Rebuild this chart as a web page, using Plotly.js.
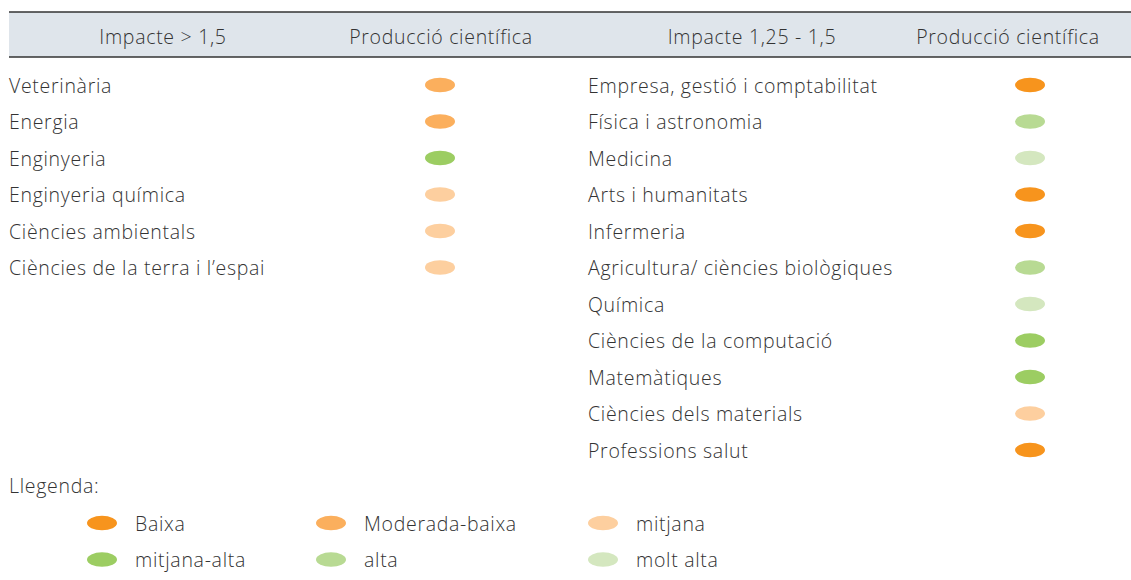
<!DOCTYPE html>
<html>
<head>
<meta charset="utf-8">
<script src="https://cdn.plot.ly/plotly-3.0.1.min.js"></script>
<style>
html,body{margin:0;padding:0;background:#fff;}
#chart{width:1131px;height:580px;}
#chart .textpoint text{letter-spacing:0.7px;}
</style>
</head>
<body>
<div id="chart"></div>
<script>
// ---- data ----
const headerLeft = ['Impacte > 1,5', 'Producció científica'];
const headerRight = ['Impacte 1,25 - 1,5', 'Producció científica'];

const leftCategories = ['Veterinària', 'Energia', 'Enginyeria', 'Enginyeria química',
  'Ciències ambientals', 'Ciències de la terra i l\u2019espai'];
const leftLevels = ['Moderada-baixa', 'Moderada-baixa', 'mitjana-alta', 'mitjana', 'mitjana', 'mitjana'];

const rightCategories = ['Empresa, gestió i comptabilitat', 'Física i astronomia', 'Medicina',
  'Arts i humanitats', 'Infermeria', 'Agricultura/ ciències biològiques', 'Química',
  'Ciències de la computació', 'Matemàtiques', 'Ciències dels materials', 'Professions salut'];
const rightLevels = ['Baixa', 'alta', 'molt alta', 'Baixa', 'Baixa', 'alta', 'molt alta',
  'mitjana-alta', 'mitjana-alta', 'mitjana', 'Baixa'];

const legendTitle = 'Llegenda:';
const levelNames = ['Baixa', 'Moderada-baixa', 'mitjana', 'mitjana-alta', 'alta', 'molt alta'];
const levelColors = ['#F7941D', '#FBAF5D', '#FDCF9F', '#9CCD62', '#B8DA93', '#D4E7BF'];

// ---- layout helpers ----
const FONT = {family: 'Open Sans, Liberation Sans, sans-serif', size: 19.5, color: '#333333', weight: 300};
const colorOf = name => levelColors[levelNames.indexOf(name)];
const TXT_DY = 0.08;
const rowIdx = arr => arr.map((_, i) => i + TXT_DY);

const traces = [];
const shapes = [];

function textTrace(xs, ys, texts, pos) {
  traces.push({type: 'scatter', mode: 'text', x: xs, y: ys, text: texts,
    textposition: pos, textfont: FONT, hoverinfo: 'skip', showlegend: false, cliponaxis: false});
}
function ellipse(cx, cy, color) {
  shapes.push({type: 'circle', xref: 'x', yref: 'y', x0: cx - 15, x1: cx + 15,
    y0: cy - 0.2, y1: cy + 0.2, fillcolor: color, line: {width: 0}, layer: 'above'});
}

// header band
const HY = -1.25;
shapes.push({type: 'rect', xref: 'x', yref: 'y', x0: 9, x1: 1131, y0: -2.0, y1: -0.77,
  fillcolor: '#DFE5EB', line: {width: 0}, layer: 'below'});
shapes.push({type: 'line', xref: 'x', yref: 'y', x0: 9, x1: 1131, y0: -2.0, y1: -2.0,
  line: {color: '#333', width: 1.5}});
shapes.push({type: 'line', xref: 'x', yref: 'y', x0: 9, x1: 1131, y0: -0.77, y1: -0.77,
  line: {color: '#333', width: 1.5}});
textTrace([163, 441], [HY, HY], headerLeft, 'middle center');
textTrace([752, 1008], [HY, HY], headerRight, 'middle center');

// left table
textTrace(leftCategories.map(() => 9), rowIdx(leftCategories), leftCategories, 'middle right');
leftLevels.forEach((lv, i) => ellipse(440, i, colorOf(lv)));

// right table
textTrace(rightCategories.map(() => 588), rowIdx(rightCategories), rightCategories, 'middle right');
rightLevels.forEach((lv, i) => ellipse(1030, i, colorOf(lv)));

// legend
textTrace([9], [11.05], [legendTitle], 'middle right');
const legX = [102, 331, 603];
const legTextX = [135, 364, 636];
levelNames.forEach((nm, k) => {
  const col = k % 3, row = 12 + Math.floor(k / 3);
  ellipse(legX[col], row, levelColors[k]);
  textTrace([legTextX[col]], [row + TXT_DY], [nm], 'middle right');
});

const layout = {
  width: 1131, height: 580,
  margin: {l: 0, r: 0, t: 0, b: 0},
  paper_bgcolor: '#fff', plot_bgcolor: '#fff',
  xaxis: {range: [0, 1131], visible: false, fixedrange: true},
  yaxis: {range: [13.56, -2.329], visible: false, fixedrange: true},
  shapes: shapes,
  showlegend: false
};
Plotly.newPlot('chart', traces, layout, {staticPlot: true, displayModeBar: false});
</script>
</body>
</html>
